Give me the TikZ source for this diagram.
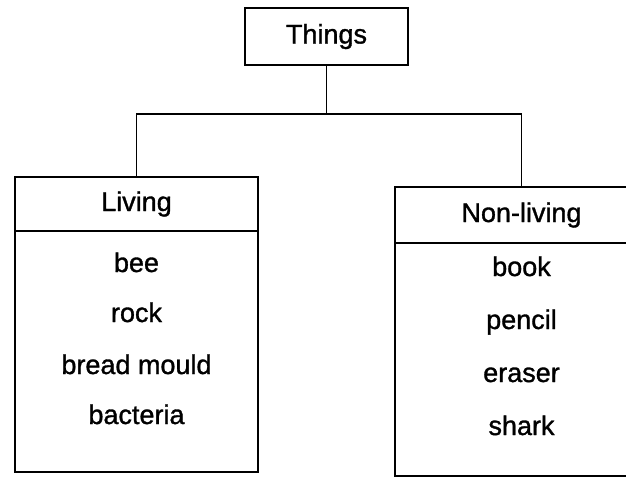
\documentclass[tikz,border=0pt]{standalone}
\usepackage{fontspec}
\setmainfont[FakeBold=1.2]{Liberation Sans}
\usetikzlibrary{positioning}

\begin{document}
\begin{tikzpicture}[
    x=1pt, y=-1pt,
    every node/.style={font=\fontsize{27}{32}\selectfont, inner sep=0pt, outer sep=0pt},
    box line/.style={line width=1.8pt},
    head box/.style={draw, box line, text height=20pt, text depth=6pt},
    list box/.style={draw, box line},
    item/.style={anchor=base}
]
    \useasboundingbox (0,0) rectangle (626,480);

    % Top box
    \node[head box, minimum width=163pt, minimum height=57pt] (things) at (326.5,36.5) {Things};

    % Left column
    \def\lx{136.5}
    \node[head box, minimum width=243pt, minimum height=54pt] (living) at (\lx,204) {Living};
    \node[list box, minimum width=243pt, minimum height=241pt, below=0pt of living] (livinglist) {};
    \foreach \name/\txt/\y in {bee/bee/272, rock/rock/322, mould/bread mould/374, bacteria/bacteria/424}
        \node[item] (\name) at (\lx,\y) {\txt};

    % Right column (runs off the page on the right)
    \def\rx{521.5}
    \node[head box, minimum width=253pt, minimum height=56pt] (nonliving) at (\rx,215) {Non-living};
    \node[list box, minimum width=253pt, minimum height=233pt, below=0pt of nonliving] (nonlivinglist) {};
    \foreach \name/\txt/\y in {book/book/276, pencil/pencil/329, eraser/eraser/382, shark/shark/435}
        \node[item] (\name) at (\rx,\y) {\txt};

    % Connectors
    \draw[box line] (things.south) -- ++(0,49) coordinate (fork);
    \draw[box line] (living.north) |- (fork) -| (nonliving.north);
\end{tikzpicture}
\end{document}
